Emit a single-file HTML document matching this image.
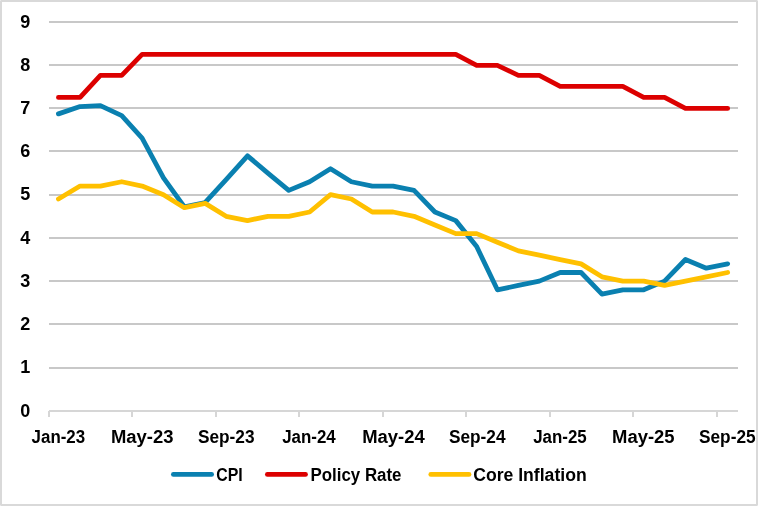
<!DOCTYPE html>
<html lang="en"><head><meta charset="utf-8"><title>CPI, Policy Rate and Core Inflation</title>
<style>html,body{margin:0;padding:0;background:#fff}body{width:758px;height:506px;overflow:hidden}svg{display:block}text{font-family:"Liberation Sans",Arial,sans-serif;font-weight:bold;fill:#000}</style></head><body>
<svg width="758" height="506" viewBox="0 0 758 506">
<rect x="0" y="0" width="758" height="506" fill="#fff"/>
<rect x="1" y="1" width="756" height="504" fill="none" stroke="#d9d9d9" stroke-width="2"/>
<rect x="0" y="0" width="1" height="1" fill="#e8e8e8"/>
<rect x="757" y="0" width="1" height="1" fill="#e8e8e8"/>
<rect x="0" y="505" width="1" height="1" fill="#e8e8e8"/>
<rect x="757" y="505" width="1" height="1" fill="#e8e8e8"/>
<rect x="49" y="367" width="689" height="2" fill="#c8c8c8"/>
<rect x="49" y="323" width="689" height="2" fill="#c8c8c8"/>
<rect x="49" y="280" width="689" height="2" fill="#c8c8c8"/>
<rect x="49" y="237" width="689" height="2" fill="#c8c8c8"/>
<rect x="49" y="194" width="689" height="2" fill="#c8c8c8"/>
<rect x="49" y="150" width="689" height="2" fill="#c8c8c8"/>
<rect x="49" y="107" width="689" height="2" fill="#c8c8c8"/>
<rect x="49" y="64" width="689" height="2" fill="#c8c8c8"/>
<rect x="49" y="21" width="689" height="2" fill="#c8c8c8"/>
<rect x="49" y="410" width="689" height="2" fill="#d6d6d6"/>
<rect x="48" y="411" width="2" height="6" fill="#d6d6d6"/>
<rect x="131" y="411" width="2" height="6" fill="#d6d6d6"/>
<rect x="215" y="411" width="2" height="6" fill="#d6d6d6"/>
<rect x="298" y="411" width="2" height="6" fill="#d6d6d6"/>
<rect x="382" y="411" width="2" height="6" fill="#d6d6d6"/>
<rect x="465" y="411" width="2" height="6" fill="#d6d6d6"/>
<rect x="549" y="411" width="2" height="6" fill="#d6d6d6"/>
<rect x="632" y="411" width="2" height="6" fill="#d6d6d6"/>
<rect x="716" y="411" width="2" height="6" fill="#d6d6d6"/>
<polyline points="58.44,113.88 80.07,106.53 100.40,105.67 121.73,115.61 142.10,138.08 163.48,177.84 184.36,206.80 205.24,202.48 226.12,179.57 247.50,155.80 267.88,173.09 288.76,190.38 309.63,181.73 330.51,168.77 351.39,181.73 372.27,186.06 393.15,186.06 414.03,190.38 434.91,211.99 455.79,220.63 476.67,246.56 497.39,289.78 518.42,285.46 539.30,281.14 560.18,272.50 581.06,272.50 601.94,294.11 622.82,289.78 643.70,289.78 664.57,281.14 685.45,259.53 706.33,268.17 727.66,263.85" fill="none" stroke="#0a80b0" stroke-width="4.8" stroke-linecap="round" stroke-linejoin="round"/>
<polyline points="58.44,97.40 80.07,97.40 100.40,75.40 121.73,75.40 142.10,54.40 163.48,54.40 184.36,54.40 205.24,54.40 226.12,54.40 247.50,54.40 267.88,54.40 288.76,54.40 309.63,54.40 330.51,54.40 351.39,54.40 372.27,54.40 393.15,54.40 414.03,54.40 434.91,54.40 455.79,54.40 476.67,65.40 497.39,65.40 518.42,75.40 539.30,75.40 560.18,86.40 581.06,86.40 601.94,86.40 622.82,86.40 643.70,97.40 664.57,97.40 685.45,108.40 706.33,108.40 727.66,108.40" fill="none" stroke="#dc0000" stroke-width="4.8" stroke-linecap="round" stroke-linejoin="round"/>
<polyline points="58.44,199.02 80.07,186.06 100.40,186.06 121.73,181.73 142.10,186.06 163.48,194.70 184.36,207.67 205.24,203.34 226.12,216.31 247.50,220.63 267.88,216.31 288.76,216.31 309.63,211.99 330.51,194.70 351.39,199.02 372.27,211.99 393.15,211.99 414.03,216.31 434.91,224.95 455.79,233.60 476.67,233.60 497.39,242.24 518.42,250.89 539.30,255.21 560.18,259.53 581.06,263.85 601.94,276.82 622.82,281.14 643.70,281.14 664.57,285.46 685.45,281.14 706.33,276.82 727.66,272.50" fill="none" stroke="#ffc000" stroke-width="4.8" stroke-linecap="round" stroke-linejoin="round"/>
<text x="30.2" y="417" font-size="18" text-anchor="end">0</text>
<text x="30.2" y="373" font-size="18" text-anchor="end">1</text>
<text x="30.2" y="330" font-size="18" text-anchor="end">2</text>
<text x="30.2" y="287" font-size="18" text-anchor="end">3</text>
<text x="30.2" y="244" font-size="18" text-anchor="end">4</text>
<text x="30.2" y="200" font-size="18" text-anchor="end">5</text>
<text x="30.2" y="157" font-size="18" text-anchor="end">6</text>
<text x="30.2" y="114" font-size="18" text-anchor="end">7</text>
<text x="30.2" y="71" font-size="18" text-anchor="end">8</text>
<text x="30.2" y="28" font-size="18" text-anchor="end">9</text>
<text x="31.6" y="442.5" font-size="18" textLength="53.6" lengthAdjust="spacingAndGlyphs">Jan-23</text>
<text x="110.9" y="442.5" font-size="18" textLength="62.5" lengthAdjust="spacingAndGlyphs">May-23</text>
<text x="197.9" y="442.5" font-size="18" textLength="56.6" lengthAdjust="spacingAndGlyphs">Sep-23</text>
<text x="282.2" y="442.5" font-size="18" textLength="53.6" lengthAdjust="spacingAndGlyphs">Jan-24</text>
<text x="362.2" y="442.5" font-size="18" textLength="62.5" lengthAdjust="spacingAndGlyphs">May-24</text>
<text x="448.9" y="442.5" font-size="18" textLength="56.6" lengthAdjust="spacingAndGlyphs">Sep-24</text>
<text x="533.2" y="442.5" font-size="18" textLength="53.6" lengthAdjust="spacingAndGlyphs">Jan-25</text>
<text x="612.1" y="442.5" font-size="18" textLength="62.5" lengthAdjust="spacingAndGlyphs">May-25</text>
<text x="699.0" y="442.5" font-size="18" textLength="56.6" lengthAdjust="spacingAndGlyphs">Sep-25</text>
<line x1="173.4" y1="474.4" x2="211.6" y2="474.4" stroke="#0a80b0" stroke-width="4.8" stroke-linecap="round"/>
<text x="216.2" y="480.5" font-size="18" textLength="26.5" lengthAdjust="spacingAndGlyphs">CPI</text>
<line x1="267.4" y1="474.4" x2="305.5" y2="474.4" stroke="#dc0000" stroke-width="4.8" stroke-linecap="round"/>
<text x="310.5" y="480.5" font-size="18" textLength="91.0" lengthAdjust="spacingAndGlyphs">Policy Rate</text>
<line x1="430.8" y1="474.4" x2="469.0" y2="474.4" stroke="#ffc000" stroke-width="4.8" stroke-linecap="round"/>
<text x="473.2" y="480.5" font-size="18" textLength="113.5" lengthAdjust="spacingAndGlyphs">Core Inflation</text>
</svg></body></html>
